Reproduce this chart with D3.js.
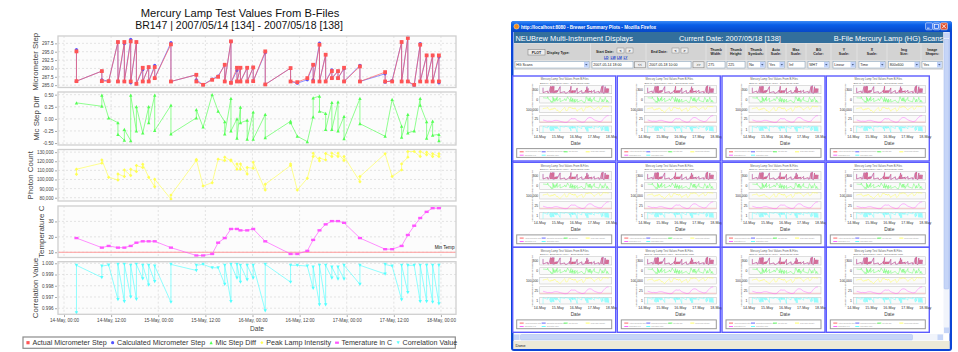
<!DOCTYPE html>
<html><head><meta charset="utf-8">
<script src="https://cdn.jsdelivr.net/npm/d3@7"></script>
<style>
html,body{margin:0;padding:0;background:#fff;}
svg{display:block;font-family:"Liberation Sans",Arial,sans-serif;}
</style></head><body>
<svg id="c" width="958" height="352"></svg>
<script>
// ---- Hg lamp scan data, BR147, 2007/05/14 - 2007/05/18 ----
const scanTimes = [
  "2007-05-14 03:10","2007-05-14 09:38","2007-05-14 11:22","2007-05-14 13:44","2007-05-14 15:22","2007-05-14 16:59","2007-05-14 18:26","2007-05-14 20:03","2007-05-14 21:34","2007-05-14 23:06",
  "2007-05-15 03:14","2007-05-15 09:42","2007-05-15 11:25","2007-05-15 13:44","2007-05-15 15:15","2007-05-15 16:56","2007-05-15 18:31","2007-05-15 20:03","2007-05-15 20:56","2007-05-15 22:39",
  "2007-05-16 00:11","2007-05-16 03:15","2007-05-16 09:42","2007-05-16 11:25","2007-05-16 13:58","2007-05-16 15:27","2007-05-16 17:04","2007-05-16 18:38","2007-05-16 20:13","2007-05-16 21:47","2007-05-16 23:19",
  "2007-05-17 03:22","2007-05-17 09:47","2007-05-17 11:34","2007-05-17 13:59","2007-05-17 15:34","2007-05-17 17:11","2007-05-17 18:43","2007-05-17 20:21","2007-05-17 21:53","2007-05-17 23:29"
];
// each scan time holds one or two readings
const actualStep = [
  [295.1,286.2],[289.2,286.2],[286.2],[297.9,286.1],[297.9,286.1],[298.1,286.1],[297.9,285.4],[290.2,286.1],[290.4,286.1],[290.4,287.1],
  [297.2,286.1],[288.1,286.1],[285.1],[286.6],[287.5],[291.1,286.1],[298.1,285.7],[290.2,286.1],[290.2,286.1],[290.2,286.1],
  [290.3,286.2],[295.1,285.2],[290.1,286.1],[285.9],[287.1],[291.1,286.1],[297.1,286.1],[294.1,286.1],[289.2,287.1],[289.2,287.1],[290.2,286.1],
  [290.6,286.1],[288.9,286.1],[286.1],[297.9,286.1],[299.1,286.1],[285.1],[297.1,286.1],[293.9,286.1],[293.9,286.1],[293.9,286.1]
];
const calcStep = [
  [295.6,286.2],[289.2,286.6],[286.2],[297.9,286.1],[297.4,286.1],[298.7,285.7],[297.9,285.4],[289.6,286.1],[290.4,286.1],[290.9,287.1],
  [297.7,286.1],[288.1,286.6],[285.1],[286.8],[287.7],[291.1,286.1],[298.1,285.7],[289.4,286.1],[290.2,286.1],[290.2,286.1],
  [290.3,286.2],[294.7,285.2],[290.1,286.1],[285.6],[286.6],[291.1,286.6],[297.6,286.1],[294.1,286.1],[289.6,287.1],[289.2,287.1],[289.9,286.1],
  [290.9,286.1],[288.4,285.9],[286.4],[297.9,286.1],[299.4,286.1],[284.9],[297.4,286.1],[293.9,286.1],[293.9,286.1],[293.4,285.7]
];
const stepDiff = [
  [0.33],[0.26,0.49],[0.02],[-0.08,-0.32],[-0.44,-0.22],[-0.45,0.49],[-0.25,0.25],[-0.29],[0.25,-0.08],[0.49,-0.24],
  [0.28,-0.31],[0.02,0.19],[-0.17],[0.50],[0.16],[-0.06,-0.31],[0.42,-0.25],[0.00,-0.40],[0.24,-0.08],[-0.03,-0.42],
  [0.14,-0.42],[0.09,-0.39],[-0.05,-0.08],[-0.36],[-0.47],[0.04,0.43],[0.47,0.16],[0.11,-0.22],[0.34,-0.22],[0.35,-0.25],[0.05,-0.41],
  [0.42,-0.10],[-0.36],[0.40],[-0.15,-0.38],[0.09,-0.29],[-0.25],[0.42,0.28],[-0.06,-0.40],[-0.05,-0.34],[-0.32,-0.45]
];
const peakIntensity = [
  [105700,111250],[117900,121500],[102400],[99500,106100],[103200,110500],[104300,111250],[108700,115300],[113100,116800],[102400],[92100,100200],
  [78500,82900],[120800,121900],[92900],[96500],[122300],[120800,124500],[120400,121500],[111300,117100],[111300,117100],[106100,113100],
  [112400,119000],[88400,94700],[115300,117100],[88400],[101300],[125200,128900],[120400,123400],[121500,128500],[125200,128900],[125200,128900],[120800,125200],
  [97600,103200],[128200],[103200],[110500,117100],[124500,130700],[130700],[125200,130700],[127100,130000],[125200,128200],[125200,128200]
];
const temperature = [
  19.2,13,14.1,13,13,14.1,16.2,17.1,17.1,17.1,
  13,7.9,7.9,8.9,16.2,19.2,25.1,25.1,24.2,24.2,
  25.1,17.1,8.9,8.9,10.9,18,24.2,28.1,30.2,30.2,29.1,
  19.2,12,12,14.1,21.2,27.2,32.2,36.2,38.6,38.6
];
const correlation = [
  [0.99560,0.99982],[0.99874,0.99975],[0.99985],[0.99677,0.99990],[0.99660,0.99990],[0.99700,0.99982],[0.99679,0.99990],[0.99862,0.99982],[0.99807,0.99982],[0.99838,0.99975],
  [0.99654,0.99990],[0.99936,0.99982],[0.99990],[0.99960],[0.99960],[0.99813,0.99982],[0.99660,0.99990],[0.99868,0.99990],[0.99832,0.99982],[0.99853,0.99982],
  [0.99868,0.99982],[0.99578,0.99990],[0.99832,0.99982],[0.99982],[0.99975],[0.99777,0.99966],[0.99630,0.99982],[0.99630,0.99982],[0.99868,0.99966],[0.99859,0.99966],[0.99859,0.99982],
  [0.99813,0.99982],[0.99905,0.99990],[0.99975],[0.99676,0.99982],[0.99740,0.99982],[0.99982],[0.99660,0.99982],[0.99660,0.99982],[0.99654,0.99982],[0.99639,0.99982]
];
const minTemp = 10;

const stepTicks = [285, 287.5, 290, 292.5, 295, 297.5];
const diffTicks = [-0.5, -0.25, 0, 0.25, 0.5];
const photonTicks = [80000, 90000, 100000, 110000, 120000, 130000];
const tempTicks = [10, 20, 30];
const corrTicks = [0.996, 0.997, 0.998, 0.999, 1.000];
const dateTicks = ["2007-05-14 00:00","2007-05-14 12:00","2007-05-15 00:00","2007-05-15 12:00","2007-05-16 00:00","2007-05-16 12:00","2007-05-17 00:00","2007-05-17 12:00","2007-05-18 00:00"];
const dateRange = ["2007-05-13 22:28","2007-05-18 03:50"];

const seriesNames = ["Actual Micrometer Step","Calculated Micrometer Step","Mic Step Diff","Peak Lamp Intensity","Temerature in C","Correlation Value"];
const seriesColors = ["#ff5555","#5555ff","#55ff55","#ffff55","#ff55ff","#55ffff"];

// ---- page text for the browser view ----
const controlHeads = ["Display Type:","Start Date:","End Date:","Thumb Width:","Thumb Height:","Thumb Symbols:","Auto Scale:","Max Scale:","BG Color:","Y Scale:","X Scale:","Img Size:","Image Shapes:"];
const controlValues = ["HG Scans","2007-05-14 18:00","2007-05-18 10:00","275","225","No","Yes","Inf","WHT","Linear","Time","800x600","Yes"];
const thumbDays = ["14-May","15-May","16-May","17-May","18-May"];

const parse = d3.timeParse("%Y-%m-%d %H:%M");
const T = scanTimes.map(parse);
const svg = d3.select("#c");
const FONT = '"Liberation Sans",Arial,sans-serif';
const dash = s => s.replace(/\u2212/g, "-");

function flat(series) { return series.flatMap((vals, i) => vals.map(v => ({t: T[i], v}))); }

svg.append("rect").attr("width", 958).attr("height", 352).attr("fill", "#fff");

// ================= main chart =================
const main = svg.append("g");
const X0 = 58, X1 = 456;
const x = d3.scaleTime().domain(dateRange.map(parse)).range([X0, X1]);
const xTicks = dateTicks.map(parse);

main.append("text").attr("x", 240).attr("y", 17.2).attr("text-anchor", "middle")
  .attr("font-size", 11.2).attr("fill", "#111").text("Mercury Lamp Test Values From B-Files");
main.append("text").attr("x", 239).attr("y", 29.4).attr("text-anchor", "middle")
  .attr("font-size", 10.5).attr("fill", "#111").text("BR147 | 2007/05/14 [134] - 2007/05/18 [138]");

const panels = [
  {label: "Micrometer Step", top: 36, bottom: 87.5, domain: [284.3, 299.7], ticks: stepTicks, fmt: d3.format(".1f")},
  {label: "Mic Step Diff", top: 92, bottom: 145, domain: [-0.54, 0.555], ticks: diffTicks, fmt: v => dash(d3.format(".2f")(v))},
  {label: "Photon Count", top: 149.5, bottom: 201, domain: [76400, 132900], ticks: photonTicks, fmt: d3.format(",")},
  {label: "Temperature C", top: 206, bottom: 257.5, domain: [6.6, 40], ticks: tempTicks, fmt: d3.format("d")},
  {label: "Correlation Value", top: 261.7, bottom: 314.3, domain: [0.99546, 1.00014], ticks: corrTicks, fmt: d3.format(".3f")}
];

function marker(shape, size) {
  if (shape === "rect") return `M${-size * 0.6},${-size * 0.35}h${size * 1.2}v${size * 0.7}h${-size * 1.2}Z`;
  if (shape === "down") return `M${-size / 2},${-size * 0.45}L${size / 2},${-size * 0.45}L0,${size * 0.5}Z`;
  if (shape === "up") return `M${-size / 2},${size * 0.45}L${size / 2},${size * 0.45}L0,${-size * 0.5}Z`;
  if (shape === "diamond") return `M0,${-size / 2}L${size / 2},0L0,${size / 2}L${-size / 2},0Z`;
  if (shape === "circle") return d3.symbol(d3.symbolCircle, size * size * 0.78)();
  return `M${-size / 2},${-size / 2}h${size}v${size}h${-size}Z`;
}
const shapes = ["square", "circle", "up", "diamond", "rect", "down"];

function drawSeries(g, pts, y, idx, size) {
  const col = seriesColors[idx];
  g.append("path").datum(pts)
    .attr("d", d3.line().x(d => x(d.t)).y(d => y(d.v)))
    .attr("fill", "none").attr("stroke", col).attr("stroke-width", 1).attr("stroke-opacity", 0.65);
  g.selectAll(null).data(pts).join("path")
    .attr("transform", d => `translate(${x(d.t)},${y(d.v)})`)
    .attr("d", marker(shapes[idx], size)).attr("fill", col);
}

panels.forEach((p, pi) => {
  const y = d3.scaleLinear().domain(p.domain).range([p.bottom, p.top]);
  const g = main.append("g");
  g.append("rect").attr("x", X0).attr("y", p.top).attr("width", X1 - X0).attr("height", p.bottom - p.top).attr("fill", "#fcfcfc");
  g.selectAll(null).data(xTicks).join("line")
    .attr("x1", d => x(d)).attr("x2", d => x(d)).attr("y1", p.top).attr("y2", p.bottom)
    .attr("stroke", "#d4d4d4").attr("stroke-width", 0.6).attr("stroke-dasharray", "2,2");
  g.selectAll(null).data(p.ticks).join("line")
    .attr("x1", X0).attr("x2", X1).attr("y1", d => y(d)).attr("y2", d => y(d))
    .attr("stroke", "#d4d4d4").attr("stroke-width", 0.6).attr("stroke-dasharray", "2,2");

  const ax = g.append("g").attr("transform", `translate(${X0 - 1},0)`)
    .call(d3.axisLeft(y).tickValues(p.ticks).tickFormat(p.fmt).tickSize(2).tickPadding(1.5));
  ax.attr("font-family", FONT).attr("font-size", 4.6);
  ax.select(".domain").remove();
  ax.selectAll("line").attr("stroke", "#aaa");
  ax.selectAll("text").attr("fill", "#444");
  const maxW = d3.max(ax.selectAll("text").nodes(), n => n.getComputedTextLength());
  const labelX = X0 - 1 - 3.5 - maxW - 4.2;
  g.append("text").attr("transform", `translate(${labelX},${(p.top + p.bottom) / 2}) rotate(-90)`)
    .attr("text-anchor", "middle").attr("font-size", 7.9).attr("fill", "#444").text(p.label);

  if (pi === 0) {
    drawSeries(g, flat(calcStep), y, 1, 3.2);
    drawSeries(g, flat(actualStep), y, 0, 3.8);
  } else if (pi === 1) {
    drawSeries(g, flat(stepDiff), y, 2, 3.4);
  } else if (pi === 2) {
    drawSeries(g, flat(peakIntensity), y, 3, 3.4);
  } else if (pi === 3) {
    g.append("line").attr("x1", X0).attr("x2", X1).attr("y1", y(minTemp)).attr("y2", y(minTemp))
      .attr("stroke", "#ff9a9a").attr("stroke-width", 1.2);
    g.append("text").attr("x", X1 - 1.5).attr("y", y(minTemp) - 3).attr("text-anchor", "end")
      .attr("font-size", 4.6).attr("fill", "#111").text("Min Temp");
    drawSeries(g, temperature.map((v, i) => ({t: T[i], v})), y, 4, 3.4);
  } else {
    drawSeries(g, flat(correlation), y, 5, 3.4);
  }
  g.append("rect").attr("x", X0).attr("y", p.top).attr("width", X1 - X0).attr("height", p.bottom - p.top)
    .attr("fill", "none").attr("stroke", "#cfcfcf").attr("stroke-width", 1.3);
});

const xa = main.append("g").attr("transform", `translate(0,${panels[4].bottom + 0.8})`)
  .call(d3.axisBottom(x).tickValues(xTicks).tickFormat(d3.timeFormat("%d-%b, %H:%M")).tickSize(2).tickPadding(1.8));
xa.attr("font-family", FONT).attr("font-size", 4.6);
xa.select(".domain").remove();
xa.selectAll("line").attr("stroke", "#aaa");
xa.selectAll("text").attr("fill", "#444");
main.append("text").attr("x", 257).attr("y", 330.5).attr("text-anchor", "middle").attr("font-size", 6.6).attr("fill", "#444").text("Date");

// legend
const lg = main.append("g");
lg.append("rect").attr("x", 23).attr("y", 337).attr("width", 432.3).attr("height", 11.3)
  .attr("fill", "#fff").attr("stroke", "#8c8c8c").attr("stroke-width", 1.2);
let lx = 28;
seriesNames.forEach((n, i) => {
  lg.append("path").attr("transform", `translate(${lx},342.7)`).attr("d", marker(shapes[i], 3.2)).attr("fill", seriesColors[i]);
  const t = lg.append("text").attr("x", lx + 4.4).attr("y", 345.2).attr("font-size", 7.15).attr("fill", "#333").text(n);
  lx += 4.4 + t.node().getComputedTextLength() + 6;
});

// ================= browser window with thumbnail grid =================
const defs = svg.append("defs");
const tb = defs.append("linearGradient").attr("id", "tb").attr("x1", 0).attr("x2", 0).attr("y1", 0).attr("y2", 1);
tb.append("stop").attr("offset", 0).attr("stop-color", "#3d8cf5");
tb.append("stop").attr("offset", 0.35).attr("stop-color", "#0a5fe8");
tb.append("stop").attr("offset", 1).attr("stop-color", "#0748c8");

const win = svg.append("g");
win.append("rect").attr("x", 511).attr("y", 21).attr("width", 441).attr("height", 330).attr("rx", 3).attr("fill", "#0b45d6");
win.append("rect").attr("x", 511).attr("y", 21).attr("width", 441).attr("height", 11).attr("rx", 3).attr("fill", "url(#tb)");
win.append("circle").attr("cx", 516.5).attr("cy", 26.5).attr("r", 2.6).attr("fill", "#f08a1c").attr("stroke", "#fff2c0").attr("stroke-width", 0.5);
win.append("text").attr("x", 521).attr("y", 28.7).attr("font-size", 4.6).attr("font-weight", "bold").attr("fill", "#fff")
  .text("http://localhost:8080 - Brewer Summary Plots - Mozilla Firefox");
[[925.5, "#2f6fec"], [933, "#2f6fec"], [940.5, "#e0502c"]].forEach(([bx, c]) => {
  win.append("rect").attr("x", bx).attr("y", 22.8).attr("width", 7).attr("height", 7).attr("rx", 1.2)
    .attr("fill", c).attr("stroke", "#fff").attr("stroke-width", 0.5);
});
win.append("line").attr("x1", 927).attr("x2", 929.5).attr("y1", 28.2).attr("y2", 28.2).attr("stroke", "#fff").attr("stroke-width", 0.8);
win.append("rect").attr("x", 934.5).attr("y", 24.3).attr("width", 4).attr("height", 4).attr("fill", "none").attr("stroke", "#fff").attr("stroke-width", 0.7);
win.append("path").attr("d", "M942,24.3L946,28.3M946,24.3L942,28.3").attr("stroke", "#fff").attr("stroke-width", 0.9);

// client area
win.append("rect").attr("x", 513.5).attr("y", 32).attr("width", 436).attr("height", 317).attr("fill", "#fff");
// page header
win.append("rect").attr("x", 514).attr("y", 32).attr("width", 429.5).attr("height", 11).attr("fill", "#336f9c");
win.append("text").attr("x", 515.5).attr("y", 40.8).attr("font-size", 7.4).attr("fill", "#fff").text("NEUBrew Multi-Instrument Displays");
win.append("text").attr("x", 679).attr("y", 40.8).attr("font-size", 7.4).attr("fill", "#fff").text("Current Date: 2007/05/18 [138]");
win.append("text").attr("x", 943).attr("y", 40.8).attr("text-anchor", "end").attr("font-size", 7.4).attr("fill", "#fff").text("B-File Mercury Lamp (HG) Scans");

// control table
win.append("rect").attr("x", 514).attr("y", 43).attr("width", 429.5).attr("height", 27).attr("fill", "#e6e6e6");
const cellX = [513.5, 590.5, 646, 706, 726, 746, 766, 786, 806, 831, 857, 887, 921, 943.5];
for (let i = 0; i < cellX.length - 1; i++) {
  win.append("rect").attr("x", cellX[i] + 0.4).attr("y", 43.5).attr("width", cellX[i + 1] - cellX[i] - 0.8).attr("height", 16.5).attr("fill", "#d3d3d3");
  win.append("rect").attr("x", cellX[i] + 0.4).attr("y", 60.5).attr("width", cellX[i + 1] - cellX[i] - 0.8).attr("height", 9).attr("fill", "#dcdcdc");
}
const headTxt = (tx, ty, s, anchor) => win.append("text").attr("x", tx).attr("y", ty).attr("font-size", 3.5).attr("font-weight", "bold")
  .attr("fill", "#222").attr("text-anchor", anchor || "middle").text(s);
win.append("rect").attr("x", 528).attr("y", 49.5).attr("width", 17).attr("height", 5.5).attr("fill", "#eee").attr("stroke", "#777").attr("stroke-width", 0.5);
headTxt(536.5, 53.5, "PLOT");
headTxt(547, 53.5, controlHeads[0], "start");
[[596, controlHeads[1]], [651, controlHeads[2]]].forEach(([hx, s]) => {
  headTxt(hx, 52.5, s, "start");
  win.append("rect").attr("x", hx + 21).attr("y", 48).attr("width", 7).attr("height", 5).attr("fill", "#eee").attr("stroke", "#777").attr("stroke-width", 0.4);
  win.append("rect").attr("x", hx + 30).attr("y", 48).attr("width", 7).attr("height", 5).attr("fill", "#eee").attr("stroke", "#777").attr("stroke-width", 0.4);
  headTxt(hx + 24.5, 51.8, "<"); headTxt(hx + 33.5, 51.8, ">");
});
["LD", "LW", "LM", "LY"].forEach((s, i) => {
  win.append("text").attr("x", 604 + i * 6.5).attr("y", 58.5).attr("font-size", 3.4).attr("font-weight", "bold")
    .attr("fill", "#1a3fd0").attr("text-decoration", "underline").text(s);
});
for (let i = 3; i < controlHeads.length; i++) {
  const cx = (cellX[i] + cellX[i + 1]) / 2;
  const words = controlHeads[i].split(" ");
  if (words.length > 1) { headTxt(cx, 50.5, words[0]); headTxt(cx, 54.8, words.slice(1).join(" ")); }
  else headTxt(cx, 52.5, words[0]);
}
const inputBox = (bx, w, s, dd) => {
  win.append("rect").attr("x", bx).attr("y", 61.5).attr("width", w).attr("height", 6.5).attr("fill", "#fff").attr("stroke", "#7f9db9").attr("stroke-width", 0.5);
  win.append("text").attr("x", bx + 1.2).attr("y", 66.2).attr("font-size", 3.6).attr("fill", "#222").text(s);
  if (dd) {
    win.append("rect").attr("x", bx + w - 5).attr("y", 62).attr("width", 4.6).attr("height", 5.5).attr("fill", "#c1d3fb");
    win.append("path").attr("d", `M${bx + w - 3.9},64.1L${bx + w - 1.5},64.1L${bx + w - 2.7},65.5Z`).attr("fill", "#4d6185");
  }
};
const smallBtn = (bx, s) => {
  win.append("rect").attr("x", bx).attr("y", 61.8).attr("width", 11).attr("height", 6).attr("fill", "#eee").attr("stroke", "#777").attr("stroke-width", 0.5);
  win.append("text").attr("x", bx + 5.5).attr("y", 66).attr("font-size", 3.4).attr("text-anchor", "middle").attr("fill", "#222").text(s);
};
inputBox(515, 74, controlValues[0], true);
inputBox(592, 41, controlValues[1]); smallBtn(634.5, "<<");
inputBox(648, 43, controlValues[2]); smallBtn(693, ">>");
inputBox(707, 18, controlValues[3]);
inputBox(727, 18, controlValues[4]);
inputBox(748, 17, controlValues[5], true);
inputBox(768, 16.5, controlValues[6], true);
inputBox(788, 17, controlValues[7]);
inputBox(808, 21, controlValues[8], true);
inputBox(833, 22.5, controlValues[9], true);
inputBox(859, 26, controlValues[10], true);
inputBox(888.5, 31, controlValues[11], true);
inputBox(922, 20, controlValues[12], true);

// thumbnails
const thumbCols = [512.7, 617.3, 722, 826.3];
const thumbRows = [76, 162.3, 247.3];
const thumbPanels = [[9.4, 17.7], [20.4, 27], [30, 36.7], [39.4, 46.7], [50, 56.7]];
const thumbLabels = ["300", "0", "100,000", "25", "1"];

function thumb(gx, gy) {
  const g = win.append("g");
  g.append("rect").attr("x", gx).attr("y", gy).attr("width", 103).attr("height", 85)
    .attr("fill", "#fff").attr("stroke", "#5c5cff").attr("stroke-width", 1.4);
  g.append("text").attr("x", gx + 52).attr("y", gy + 4.3).attr("text-anchor", "middle").attr("font-size", 2.7).attr("fill", "#666").text("Mercury Lamp Test Values From B-Files");
  g.append("text").attr("x", gx + 52).attr("y", gy + 7.6).attr("text-anchor", "middle").attr("font-size", 2.5).attr("fill", "#666").text("BR147 | 2007/05/14 [134] - 2007/05/18 [138]");
  const tx = d3.scaleTime().domain(dateRange.map(parse)).range([gx + 27, gx + 99]);
  const sets = [[calcStep, actualStep], [stepDiff], [peakIntensity], [temperature.map(v => [v])], [correlation]];
  const cols = [[1, 0], [2], [3], [4], [5]];
  thumbPanels.forEach(([a, b], pi) => {
    const ty = d3.scaleLinear().domain(panels[pi].domain).range([gy + b, gy + a]);
    g.append("rect").attr("x", gx + 27).attr("y", gy + a).attr("width", 72).attr("height", b - a)
      .attr("fill", "#fafafa").attr("stroke", "#c8c8c8").attr("stroke-width", 0.6);
    if (pi === 3) g.append("line").attr("x1", gx + 27).attr("x2", gx + 99).attr("y1", ty(minTemp)).attr("y2", ty(minTemp)).attr("stroke", "#ff9a9a").attr("stroke-width", 0.5);
    sets[pi].forEach((s, k) => {
      g.append("path").datum(flat(s)).attr("d", d3.line().x(d => tx(d.t)).y(d => ty(d.v)))
        .attr("fill", "none").attr("stroke", seriesColors[cols[pi][k]]).attr("stroke-width", 0.5).attr("stroke-opacity", 0.85);
    });
    g.append("text").attr("x", gx + 25.5).attr("y", gy + (a + b) / 2 + 1.2).attr("text-anchor", "end").attr("font-size", 3.4).attr("fill", "#333").text(thumbLabels[pi]);
    g.append("text").attr("transform", `translate(${gx + 20},${gy + (a + b) / 2}) rotate(-90)`).attr("text-anchor", "middle")
      .attr("font-size", 1.6).attr("fill", "#777").text(panels[pi].label);
  });
  thumbDays.forEach((d, i) => {
    g.append("text").attr("x", gx + 27 + i * 18).attr("y", gy + 62).attr("text-anchor", "middle").attr("font-size", 3.6).attr("fill", "#333").text(d);
  });
  g.append("text").attr("x", gx + 63).attr("y", gy + 68.5).attr("text-anchor", "middle").attr("font-size", 4.8).attr("fill", "#444").text("Date");
  g.append("rect").attr("x", gx + 4).attr("y", gy + 72.6).attr("width", 95).attr("height", 8.8).attr("fill", "#fff").attr("stroke", "#999").attr("stroke-width", 1);
  seriesNames.forEach((n, i) => {
    const lx2 = gx + 7 + (i % 4) * 22, ly = gy + 75.8 + Math.floor(i / 4) * 3.4;
    g.append("line").attr("x1", lx2).attr("x2", lx2 + 4).attr("y1", ly).attr("y2", ly).attr("stroke", seriesColors[i]).attr("stroke-width", 0.9);
    g.append("text").attr("x", lx2 + 5).attr("y", ly + 0.6).attr("font-size", 1.6).attr("fill", "#999").text(n);
  });
}
thumbRows.forEach(ry => thumbCols.forEach(cx => thumb(cx, ry)));

// scrollbars and status bar
win.append("rect").attr("x", 943.5).attr("y", 32).attr("width", 6).attr("height", 301.5).attr("fill", "#f1f4fb");
win.append("rect").attr("x", 944).attr("y", 39).attr("width", 5).attr("height", 250).attr("rx", 1).attr("fill", "#c6d5f7").attr("stroke", "#9fb6ee").attr("stroke-width", 0.4);
win.append("rect").attr("x", 944).attr("y", 32.5).attr("width", 5).attr("height", 5.5).attr("fill", "#c6d5f7");
win.append("rect").attr("x", 944).attr("y", 327.5).attr("width", 5).attr("height", 5.5).attr("fill", "#c6d5f7");
win.append("rect").attr("x", 514).attr("y", 334).attr("width", 429.5).attr("height", 6.5).attr("fill", "#f1f4fb");
win.append("rect").attr("x", 520.5).attr("y", 334.5).attr("width", 392).attr("height", 5.5).attr("rx", 1).attr("fill", "#c6d5f7").attr("stroke", "#9fb6ee").attr("stroke-width", 0.4);
win.append("rect").attr("x", 514).attr("y", 334.5).attr("width", 5.5).attr("height", 5.5).attr("fill", "#c6d5f7");
win.append("rect").attr("x", 937.5).attr("y", 334.5).attr("width", 5.5).attr("height", 5.5).attr("fill", "#c6d5f7");
win.append("rect").attr("x", 513.5).attr("y", 341).attr("width", 436).attr("height", 8).attr("fill", "#ece9d8");
win.append("text").attr("x", 515.5).attr("y", 347.3).attr("font-size", 4.2).attr("fill", "#222").text("Done");
</script></body></html>
